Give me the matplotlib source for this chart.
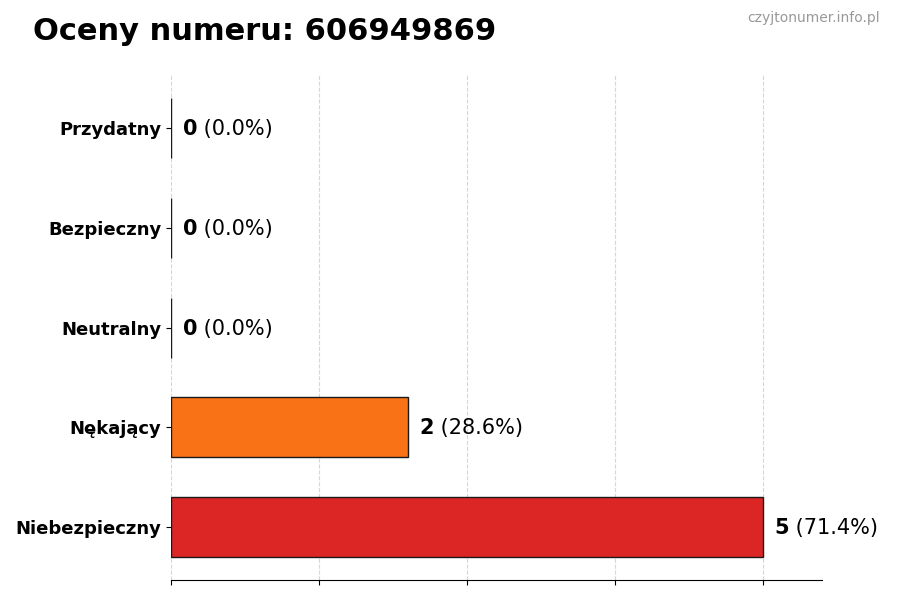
import matplotlib.pyplot as plt

categories = ["Niebezpieczny", "Nękający", "Neutralny", "Bezpieczny", "Przydatny"]
counts = [5, 2, 0, 0, 0]
colors = ["#dc2626", "#f97316", "#9ca3af", "#22c55e", "#3b82f6"]
number = "606949869"

total = sum(counts)

fig = plt.figure(figsize=(9, 6), dpi=100)
ax = fig.add_axes([0.19, 0.033, 0.723, 0.842])

ax.barh(categories, counts, height=0.6, color=colors, edgecolor="#1a1a1a", linewidth=1)

ax.set_xlim(0, max(counts) * 1.1)
ax.set_xticks([i * max(counts) / 4 for i in range(5)])
ax.set_xticklabels([])
ax.grid(axis="x", linestyle="--", color="#cccccc", alpha=0.8)
ax.set_axisbelow(True)
for s in ["top", "right", "left"]:
    ax.spines[s].set_visible(False)
ax.tick_params(axis="y", labelsize=13)
for lbl in ax.get_yticklabels():
    lbl.set_fontweight("bold")

fig.canvas.draw()
renderer = fig.canvas.get_renderer()
for i, c in enumerate(counts):
    t = ax.text(c + 0.1, i - 0.01, str(c), va="center", ha="left", fontsize=15, fontweight="bold")
    bb = t.get_window_extent(renderer)
    x_end = ax.transData.inverted().transform((bb.x1, 0))[0]
    pct = 100 * c / total if total else 0
    ax.text(x_end, i - 0.01, " (%.1f%%)" % pct, va="center", ha="left", fontsize=15)

fig.text(0.037, 0.947, "Oceny numeru: " + number, fontsize=22, fontweight="bold", va="center")
fig.text(0.978, 0.970, "czyjtonumer.info.pl", fontsize=10, color="#999999", ha="right", va="center")

plt.savefig("out.png")
plt.close()
